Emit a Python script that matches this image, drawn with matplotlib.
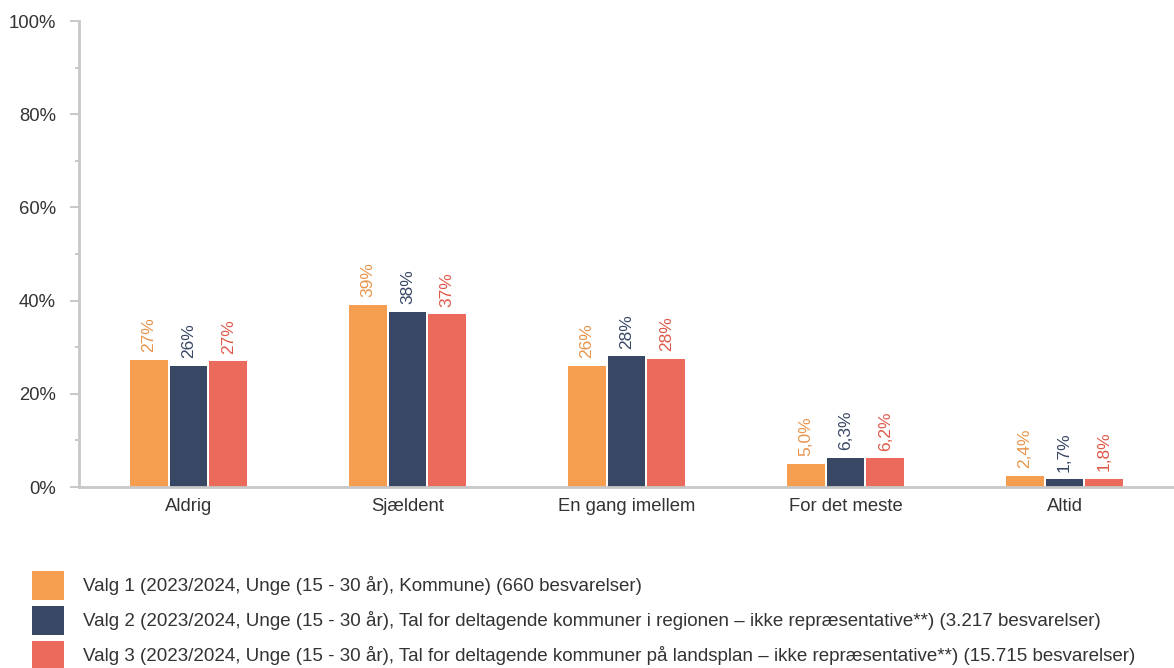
import numpy as np
import matplotlib.pyplot as plt
from matplotlib.patches import Rectangle

plt.rcParams["font.family"] = ["Liberation Sans", "DejaVu Sans"]

categories = ["Aldrig", "Sjældent", "En gang imellem", "For det meste", "Altid"]
valg1 = [27.3, 39.1, 26.0, 5.0, 2.4]
valg2 = [26.0, 37.6, 28.1, 6.3, 1.7]
valg3 = [27.0, 37.1, 27.5, 6.2, 1.8]
series_names = [
    "Valg 1 (2023/2024, Unge (15 - 30 år), Kommune) (660 besvarelser)",
    "Valg 2 (2023/2024, Unge (15 - 30 år), Tal for deltagende kommuner i regionen – ikke repræsentative**) (3.217 besvarelser)",
    "Valg 3 (2023/2024, Unge (15 - 30 år), Tal for deltagende kommuner på landsplan – ikke repræsentative**) (15.715 besvarelser)",
]
colors = ["#F59E4F", "#384764", "#EB6A5B"]
label_colors = ["#E8944C", "#384764", "#E0594A"]


def fmt(v):
    if v >= 10:
        return f"{round(v)}%"
    return f"{v:.1f}".replace(".", ",") + "%"


W, H = 1174, 668
fig = plt.figure(figsize=(W / 100, H / 100), dpi=100)
ax = fig.add_axes([79 / W, 1 - 487 / H, 1 - 79 / W, (487 - 21) / H])

x = np.arange(len(categories))
width = 0.173
step = 0.182
for i, vals in enumerate([valg1, valg2, valg3]):
    pos = x + (i - 1) * step
    ax.bar(pos, vals, width=width, color=colors[i], zorder=2)
    for p, v in zip(pos, vals):
        ax.text(p, v + 1.6, fmt(v), rotation=90, ha="center", va="bottom",
                fontsize=12.5, color=label_colors[i])

ax.set_xlim(-0.5, len(categories) - 0.5)
ax.set_ylim(0, 100)
ax.set_yticks(np.arange(0, 101, 20))
ax.set_yticklabels([f"{t}%" for t in range(0, 101, 20)])
ax.set_yticks(np.arange(10, 100, 20), minor=True)
ax.set_xticks(x)
ax.set_xticklabels(categories)

for side in ["top", "right"]:
    ax.spines[side].set_visible(False)
for side in ["left", "bottom"]:
    ax.spines[side].set_color("#C8C8C8")
    ax.spines[side].set_linewidth(2)

ax.tick_params(axis="y", which="major", length=6.5, width=1.4, color="#C8C8C8",
               labelsize=13.3, labelcolor="#333333", pad=10)
ax.tick_params(axis="y", which="minor", length=3, width=1.4, color="#C8C8C8")
ax.tick_params(axis="x", length=0, labelsize=13.3, labelcolor="#333333", pad=8)

# legend drawn by hand in figure pixel coordinates
for i, (name, c) in enumerate(zip(series_names, colors)):
    top = 571 + i * 35
    fig.patches.append(Rectangle((32 / W, 1 - (top + 29) / H), 32 / W, 29 / H,
                                 facecolor=c, transform=fig.transFigure))
    fig.text(83 / W, 1 - (top + 14.5) / H, name, ha="left", va="center",
             fontsize=13.5, color="#333333")

fig.savefig("out.png", dpi=100)
